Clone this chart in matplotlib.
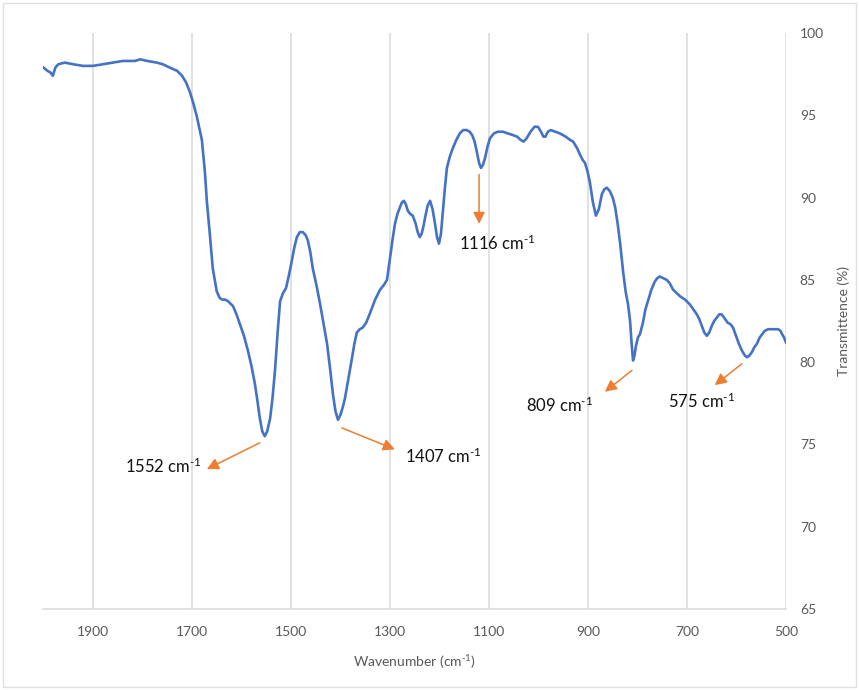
import numpy as np
import matplotlib
matplotlib.use("Agg")
import matplotlib.pyplot as plt
from matplotlib.patches import Rectangle

plt.rcParams['font.family'] = ['Lato', 'DejaVu Sans']
plt.rcParams['mathtext.default'] = 'regular'

# FTIR spectrum: wavenumber (cm-1) and transmittance (%)
wavenumber = [2000, 1992, 1986, 1981, 1976, 1970, 1957, 1940, 1920, 1900, 1880, 1860,
              1840, 1815, 1805, 1790, 1771, 1759, 1745, 1730, 1720, 1712, 1704, 1697,
              1690, 1680, 1674, 1670, 1664, 1658, 1650, 1644, 1639, 1633, 1627, 1617,
              1610, 1603, 1595, 1587, 1580, 1573, 1568, 1563, 1558, 1553, 1548, 1542,
              1537, 1532, 1527, 1522, 1516, 1510, 1504, 1498, 1493, 1488, 1482, 1476,
              1470, 1466, 1461, 1456, 1448, 1441, 1434, 1427, 1421, 1415, 1410, 1405,
              1400, 1395, 1391, 1384, 1377, 1372, 1367, 1361, 1355, 1348, 1340, 1330,
              1320, 1312, 1306, 1300, 1295, 1290, 1285, 1280, 1276, 1272, 1268, 1264,
              1259, 1254, 1248, 1244, 1240, 1236, 1232, 1229, 1224, 1219, 1214, 1209,
              1205, 1201, 1197, 1193, 1189, 1185, 1179, 1173, 1166, 1159, 1152, 1145,
              1139, 1134, 1129, 1124, 1120, 1116, 1112, 1108, 1103, 1098, 1090, 1082,
              1072, 1062, 1052, 1043, 1036, 1030, 1024, 1016, 1008, 1001, 995, 990,
              986, 981, 975, 966, 957, 945, 936, 930, 922, 916, 911, 906,
              901, 896, 890, 884, 878, 872, 867, 862, 856, 850, 845, 840,
              835, 829, 824, 819, 815, 812, 809, 806, 803, 799, 795, 789,
              784, 779, 772, 765, 760, 755, 748, 741, 735, 728, 721, 714,
              704, 694, 687, 680, 675, 670, 665, 660, 655, 650, 645, 640,
              635, 630, 625, 618, 612, 607, 601, 595, 589, 583, 579, 574,
              569, 564, 559, 553, 548, 543, 536, 529, 522, 516, 511, 508,
              504, 500]
transmittance = [97.9, 97.7, 97.6, 97.4, 97.9, 98.1, 98.2, 98.1, 98.0, 98.0, 98.1, 98.2,
                 98.3, 98.3, 98.4, 98.3, 98.2, 98.1, 97.9, 97.7, 97.4, 97.0, 96.4, 95.7,
                 94.9, 93.5, 91.6, 89.8, 87.8, 85.7, 84.3, 83.9, 83.8, 83.8, 83.7, 83.4,
                 82.9, 82.3, 81.6, 80.7, 79.8, 78.7, 77.7, 76.6, 75.8, 75.5, 75.8, 76.6,
                 77.9, 79.6, 81.8, 83.7, 84.2, 84.5, 85.3, 86.2, 87.0, 87.6, 87.9, 87.9,
                 87.7, 87.4, 86.7, 85.7, 84.6, 83.5, 82.3, 81.1, 79.6, 78.0, 77.0, 76.5,
                 76.8, 77.3, 77.8, 79.0, 80.2, 81.1, 81.8, 82.0, 82.1, 82.4, 83.0, 83.8,
                 84.4, 84.7, 85.0, 86.3, 87.4, 88.4, 89.0, 89.4, 89.7, 89.8, 89.6, 89.2,
                 89.0, 88.9, 88.4, 87.9, 87.6, 87.8, 88.3, 88.8, 89.5, 89.8, 89.3, 88.4,
                 87.6, 87.2, 87.8, 89.2, 90.6, 91.8, 92.5, 93.0, 93.5, 93.9, 94.1, 94.1,
                 94.0, 93.8, 93.4, 92.7, 92.1, 91.8, 92.0, 92.4, 93.1, 93.6, 93.9, 94.0,
                 94.0, 93.9, 93.8, 93.7, 93.5, 93.4, 93.6, 94.0, 94.3, 94.3, 94.0, 93.7,
                 93.7, 94.0, 94.1, 94.0, 93.9, 93.7, 93.5, 93.4, 93.0, 92.6, 92.3, 92.1,
                 91.6, 90.9, 89.7, 88.9, 89.3, 90.2, 90.5, 90.6, 90.4, 90.0, 89.4, 88.4,
                 87.2, 85.5, 84.3, 83.5, 82.5, 81.2, 80.1, 80.4, 81.0, 81.5, 81.7, 82.4,
                 83.2, 83.7, 84.4, 84.9, 85.1, 85.2, 85.1, 85.0, 84.8, 84.4, 84.2, 84.0,
                 83.8, 83.5, 83.2, 82.9, 82.6, 82.2, 81.8, 81.6, 81.8, 82.2, 82.5, 82.7,
                 82.9, 82.9, 82.7, 82.4, 82.3, 82.1, 81.6, 81.1, 80.7, 80.4, 80.3, 80.4,
                 80.6, 80.9, 81.1, 81.5, 81.7, 81.9, 82.0, 82.0, 82.0, 82.0, 81.9, 81.7,
                 81.5, 81.2]

# peak labels: text, arrow tail (near the band), arrow head, label position
peak_labels = ["1552", "1407", "1116", "809", "575"]
arrow_from = [(1563, 75.1), (1397, 76.0), (1120, 91.4), (811, 79.5), (589, 79.9)]
arrow_to = [(1670, 73.5), (1290, 74.7), (1120, 88.4), (866, 78.2), (644, 78.6)]
label_pos = [(1680, 73.7), (1270, 74.3), (1082, 87.2), (957, 77.4), (670, 77.6)]
label_ha = ["right", "left", "center", "center", "center"]

xticks = [1900, 1700, 1500, 1300, 1100, 900, 700, 500]
yticks = [65, 70, 75, 80, 85, 90, 95, 100]

blue = "#4472C4"
orange = "#ED7D31"
grey = "#595959"
gridc = "#D9D9D9"
sup = "$^{\u2010" + "1}$"  # superscript "-1" with a short hyphen

fig = plt.figure(figsize=(8.59, 6.90), dpi=100)
ax = fig.add_axes([0.0506, 0.1174, 0.915 - 0.0506, 0.9522 - 0.1174])

ax.plot(wavenumber, transmittance, color=blue, lw=1.9, solid_joinstyle="round")

ax.set_xlim(2000, 500)
ax.set_ylim(65, 100)
ax.set_xticks(xticks)
ax.set_yticks(yticks)
ax.grid(axis="x", color=gridc, lw=1.1)
ax.set_axisbelow(True)

ax.yaxis.tick_right()
ax.yaxis.set_label_position("right")
for s in ["left", "top", "right"]:
    ax.spines[s].set_visible(False)
ax.spines["bottom"].set_color(gridc)
ax.spines["bottom"].set_linewidth(1.1)
ax.tick_params(axis="both", length=0, labelsize=10, labelcolor=grey)
ax.tick_params(axis="x", pad=12)
ax.tick_params(axis="y", pad=10)

ax.set_xlabel("Wavenumber (cm" + sup + ")", fontsize=10, color=grey, labelpad=11)
ax.set_ylabel("Transmittence (%)", fontsize=10, color=grey, labelpad=10)

for lab, p0, p1, tp, ha in zip(peak_labels, arrow_from, arrow_to, label_pos, label_ha):
    ax.annotate("", xy=p1, xytext=p0,
                arrowprops=dict(arrowstyle="-|>,head_length=0.7,head_width=0.35",
                                color=orange, lw=1.1, shrinkA=0, shrinkB=0))
    ax.text(tp[0], tp[1], lab + " cm" + sup, ha=ha, va="center",
            fontsize=12, color="#111111")

fig.patches.append(Rectangle((0.003, 0.004), 0.994, 0.992, transform=fig.transFigure,
                             fill=False, edgecolor="#E0E0E0", lw=1))

fig.savefig("out.png", dpi=100)
